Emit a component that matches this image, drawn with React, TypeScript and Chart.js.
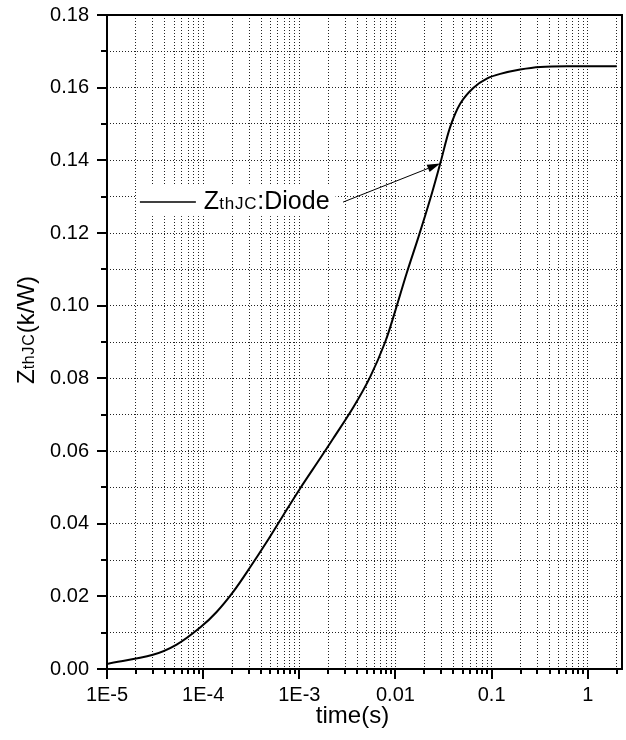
import React, { useEffect, useRef } from "react";
import { Chart, registerables } from "chart.js";

Chart.register(...registerables);

// ---- data ----
const timeS = [
  1e-5, 3e-5, 5.3e-5, 9.3e-5, 1.38e-4, 2.06e-4, 3.08e-4, 4.59e-4, 6.84e-4,
  1.02e-3, 1.65e-3, 2.26e-3, 3.66e-3, 5.46e-3, 7.82e-3, 9.93e-3, 0.0131,
  0.0174, 0.0229, 0.0292, 0.0371, 0.0471, 0.0648, 0.0892, 0.123, 0.198,
  0.321, 0.711, 2.0,
];
const zthJC = [
  0.0014, 0.0039, 0.0067, 0.0114, 0.0157, 0.0213, 0.028, 0.035, 0.0424,
  0.0497, 0.058, 0.0635, 0.0721, 0.0804, 0.09, 0.0985, 0.109, 0.119,
  0.1292, 0.1391, 0.1492, 0.1556, 0.16, 0.1625, 0.1638, 0.165, 0.1657,
  0.1659, 0.1659,
];
const xMajorTicks = [1e-5, 1e-4, 1e-3, 0.01, 0.1, 1];
const xTickLabels = ["1E-5", "1E-4", "1E-3", "0.01", "0.1", "1"];
const xMin = 1e-5;
const xMax = 2.27;
const yMin = 0;
const yMax = 0.18;
const yStep = 0.01;

// annotation (legend label + arrow) anchors in data units
const legendLineStart = [2.2e-5, 0.1285];
const legendLineEnd = [8.4e-5, 0.1285];
const arrowTail = [2.85e-3, 0.1285];
const arrowTip = [0.0292, 0.1391];

const FONT = "'Liberation Sans', Arial, Helvetica, sans-serif";

function buildXTicks(): number[] {
  const out: number[] = [];
  for (const m of xMajorTicks) {
    for (let k = 1; k <= 9; k++) {
      const v = parseFloat((m * k).toPrecision(6));
      if (v >= xMin - 1e-12 && v <= xMax) out.push(v);
    }
  }
  return out;
}

function isPow10(v: number) {
  const l = Math.log10(v);
  return Math.abs(l - Math.round(l)) < 1e-9;
}

const decorPlugin = {
  id: "decor",
  beforeDatasetsDraw(chart: any) {
    const ctx = chart.ctx as CanvasRenderingContext2D;
    const xs = chart.scales.x;
    const ys = chart.scales.y;
    const lx0 = xs.getPixelForValue(legendLineStart[0]);
    const lx1 = xs.getPixelForValue(legendLineEnd[0]);
    const ly = ys.getPixelForValue(legendLineStart[1]);

    ctx.save();
    ctx.font = `25px ${FONT}`;
    const wZ = ctx.measureText("Z").width;
    const wD = ctx.measureText(":Diode").width;
    ctx.font = `17px ${FONT}`;
    (ctx as any).letterSpacing = "0.8px";
    const wS = ctx.measureText("thJC").width;
    (ctx as any).letterSpacing = "0px";
    const tx = lx1 + 8;
    const textEnd = tx + wZ + wS + wD;

    // white box behind label
    ctx.fillStyle = "#ffffff";
    ctx.fillRect(lx0 - 3, ly - 18, textEnd - lx0 + 9, 32);

    // legend line
    ctx.strokeStyle = "#000";
    ctx.lineWidth = 1.5;
    ctx.beginPath();
    ctx.moveTo(lx0, ly);
    ctx.lineTo(lx1, ly);
    ctx.stroke();

    // label text
    const base = ly + 7;
    ctx.fillStyle = "#000";
    ctx.textBaseline = "alphabetic";
    ctx.textAlign = "left";
    ctx.font = `25px ${FONT}`;
    ctx.fillText("Z", tx, base);
    ctx.font = `17px ${FONT}`;
    (ctx as any).letterSpacing = "0.8px";
    ctx.fillText("thJC", tx + wZ, base);
    (ctx as any).letterSpacing = "0px";
    ctx.font = `25px ${FONT}`;
    ctx.fillText(":Diode", tx + wZ + wS, base);

    // arrow
    const ax0 = xs.getPixelForValue(arrowTail[0]);
    const ay0 = ys.getPixelForValue(arrowTail[1]);
    const ax1 = xs.getPixelForValue(arrowTip[0]);
    const ay1 = ys.getPixelForValue(arrowTip[1]);
    const ang = Math.atan2(ay1 - ay0, ax1 - ax0);
    const hl = 13;
    const hw = 4;
    ctx.lineWidth = 1;
    ctx.beginPath();
    ctx.moveTo(ax0, ay0);
    ctx.lineTo(ax1 - hl * Math.cos(ang), ay1 - hl * Math.sin(ang));
    ctx.stroke();
    ctx.beginPath();
    ctx.moveTo(ax1, ay1);
    ctx.lineTo(
      ax1 - hl * Math.cos(ang) + hw * Math.sin(ang),
      ay1 - hl * Math.sin(ang) - hw * Math.cos(ang)
    );
    ctx.lineTo(
      ax1 - hl * Math.cos(ang) - hw * Math.sin(ang),
      ay1 - hl * Math.sin(ang) + hw * Math.cos(ang)
    );
    ctx.closePath();
    ctx.fill();
    ctx.restore();
  },
  afterDraw(chart: any) {
    const ctx = chart.ctx as CanvasRenderingContext2D;
    const { left, right, top, bottom } = chart.chartArea;
    const xs = chart.scales.x;
    const ys = chart.scales.y;
    ctx.save();
    ctx.strokeStyle = "#000";
    // frame
    ctx.lineWidth = 2;
    ctx.strokeRect(left, top, right - left, bottom - top);

    // x tick marks (outward)
    for (const t of xs.ticks) {
      const px = Math.round(xs.getPixelForValue(t.value));
      const major = isPow10(t.value);
      ctx.lineWidth = 2;
      ctx.beginPath();
      ctx.moveTo(px, bottom);
      ctx.lineTo(px, bottom + (major ? 10 : 5));
      ctx.stroke();
    }
    // y tick marks (outward)
    for (const t of ys.ticks) {
      const py = Math.round(ys.getPixelForValue(t.value));
      const major = Math.round(t.value * 100) % 2 === 0;
      ctx.lineWidth = 2;
      ctx.beginPath();
      ctx.moveTo(left, py);
      ctx.lineTo(left - (major ? 10 : 6), py);
      ctx.stroke();
    }

    // y title (rotated, with subscript)
    ctx.fillStyle = "#000";
    ctx.textBaseline = "alphabetic";
    ctx.textAlign = "left";
    ctx.font = `24px ${FONT}`;
    const a = ctx.measureText("Z").width;
    const c = ctx.measureText("(k/W)").width;
    ctx.font = `16px ${FONT}`;
    (ctx as any).letterSpacing = "0.8px";
    const b = ctx.measureText("thJC").width;
    (ctx as any).letterSpacing = "0px";
    const total = a + b + c;
    ctx.save();
    ctx.translate(34, (top + bottom) / 2 - 12);
    ctx.rotate(-Math.PI / 2);
    const x0 = -total / 2;
    ctx.font = `24px ${FONT}`;
    ctx.fillText("Z", x0, 0);
    ctx.font = `16px ${FONT}`;
    (ctx as any).letterSpacing = "0.8px";
    ctx.fillText("thJC", x0 + a, 0);
    (ctx as any).letterSpacing = "0px";
    ctx.font = `24px ${FONT}`;
    ctx.fillText("(k/W)", x0 + a + b, 0);
    ctx.restore();

    // x title
    ctx.font = `24px ${FONT}`;
    ctx.textAlign = "center";
    ctx.fillText("time(s)", (left + right) / 2 - 12, bottom + 54);
    ctx.restore();
  },
};

export default function App() {
  const ref = useRef<HTMLCanvasElement | null>(null);

  useEffect(() => {
    if (!ref.current) return;
    const points = timeS.map((t, i) => ({ x: t, y: zthJC[i] }));
    const chart = new Chart(ref.current, {
      type: "line",
      data: {
        datasets: [
          {
            label: "ZthJC:Diode",
            data: points,
            borderColor: "#000",
            borderWidth: 2,
            pointRadius: 0,
            tension: 0.35,
            fill: false,
          },
        ],
      },
      options: {
        responsive: false,
        animation: false,
        devicePixelRatio: 1,
        layout: { padding: { left: 0, top: 15, right: 4, bottom: 0 } },
        plugins: {
          legend: { display: false },
          tooltip: { enabled: false },
          title: { display: false },
        },
        scales: {
          x: {
            type: "logarithmic",
            min: xMin,
            max: xMax,
            afterBuildTicks: (scale: any) => {
              scale.ticks = buildXTicks().map((v) => ({ value: v }));
            },
            afterFit: (scale: any) => {
              scale.height = 71;
              scale.paddingLeft = 0;
              scale.paddingRight = 0;
            },
            ticks: {
              autoSkip: false,
              maxRotation: 0,
              minRotation: 0,
              padding: 14,
              color: "#000",
              font: { family: FONT, size: 20 },
              callback: (v: any) => {
                const val = Number(v);
                if (!isPow10(val)) return "";
                const idx = xMajorTicks.findIndex(
                  (m) => Math.abs(Math.log10(m) - Math.log10(val)) < 1e-6
                );
                return idx >= 0 ? xTickLabels[idx] : "";
              },
            },
            grid: {
              color: "#222",
              lineWidth: 1,
              drawTicks: false,
            },
            border: { display: false, dash: [1, 2] },
          },
          y: {
            type: "linear",
            min: yMin,
            max: yMax,
            afterFit: (scale: any) => {
              scale.width = 107;
              scale.paddingTop = 0;
              scale.paddingBottom = 0;
            },
            ticks: {
              stepSize: yStep,
              autoSkip: false,
              padding: 18,
              color: "#000",
              font: { family: FONT, size: 20 },
              callback: (v: any) => {
                const n = Math.round(Number(v) * 100);
                return n % 2 === 0 ? (n / 100).toFixed(2) : "";
              },
            },
            grid: {
              color: "#222",
              lineWidth: 1,
              drawTicks: false,
            },
            border: { display: false, dash: [1, 2] },
          },
        },
      },
      plugins: [decorPlugin],
    } as any);
    return () => chart.destroy();
  }, []);

  return (
    <div
      style={{
        position: "fixed",
        left: 0,
        top: 0,
        width: 626,
        height: 740,
        background: "#fff",
      }}
    >
      <canvas ref={ref} width={626} height={740} style={{ width: 626, height: 740 }} />
    </div>
  );
}
